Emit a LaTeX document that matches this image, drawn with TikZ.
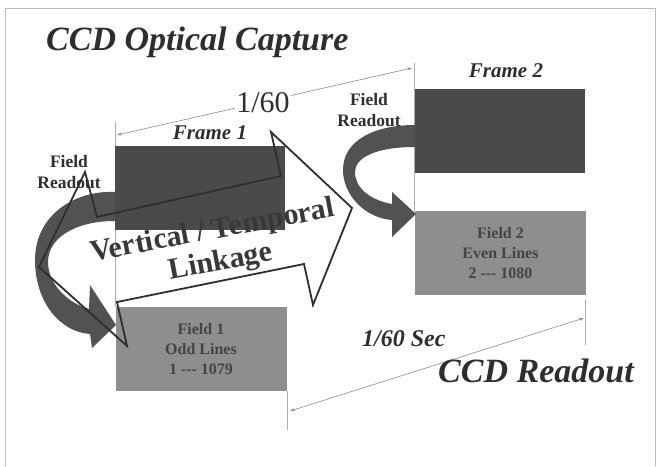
\documentclass[tikz,border=0pt]{standalone}
\usepackage{fontspec}
\setmainfont{Liberation Serif}
\usetikzlibrary{arrows.meta}
\definecolor{darkbox}{HTML}{4A4A4A}
\definecolor{fieldfill}{HTML}{8E8E8E}
\definecolor{fieldtext}{HTML}{444444}
\definecolor{swoosh}{HTML}{525252}
\definecolor{dimline}{HTML}{8A8A8A}
\definecolor{inkc}{HTML}{2E2E2E}
\begin{document}
\begin{tikzpicture}[x=1pt,y=-1pt,
  framebox/.style={fill=darkbox, draw=none, minimum width=170pt, minimum height=84pt, inner sep=0pt},
  fieldbox/.style={fill=fieldfill, draw=none, minimum width=171pt, minimum height=84pt, inner sep=0pt,
     align=center, font=\fontsize{16}{20}\selectfont\bfseries, text=fieldtext},
  bigtitle/.style={font=\fontsize{34}{38}\selectfont\bfseries\itshape, text=inkc, inner sep=0pt},
  framelabel/.style={font=\fontsize{21}{24}\selectfont\bfseries\itshape, text=inkc, inner sep=0pt},
  readlabel/.style={font=\fontsize{17.5}{21.5}\selectfont\bfseries, text=inkc, align=center, inner sep=0pt},
  linklabel/.style={rotate=10.5, anchor=base, font=\fontsize{30}{34}\selectfont\bfseries, text=black!78, inner sep=0pt},
  dimarrow/.style={draw=dimline, line width=0.6pt, {Stealth[length=5pt,width=3pt]}-{Stealth[length=5pt,width=3pt]}},
  extline/.style={draw=dimline!70, line width=0.5pt},
  swooshfill/.style={fill=swoosh},
  hollow/.style={draw=inkc, line width=1.8pt, line join=miter},
]
\useasboundingbox (0,0) rectangle (658,466);
% border
\draw[gray!55, line width=0.8pt] (5,466) -- (5,8) -- (655,8) -- (655,466);

% extension lines
\coordinate (e1a) at (115,122); \coordinate (e1b) at (115,307);
\coordinate (e2a) at (414,63);  \coordinate (e2b) at (414,211);
\coordinate (e3a) at (287,391); \coordinate (e3b) at (287,430);
\coordinate (e4a) at (585,300); \coordinate (e4b) at (585,345);
\draw[extline] (e1a) -- (e1b);
\draw[extline] (e2a) -- (e2b);
\draw[extline] (e3a) -- (e3b);
\draw[extline] (e4a) -- (e4b);

% boxes
\node[framebox] (frame1) at (200,187.5) {};
\node[fieldbox] (field1) at (201,349) {Field 1\\Odd Lines\\1 -{}-{}- 1079};
\node[framebox] (frame2) at (500,131) {};
\node[fieldbox] (field2) at (500.5,253) {Field 2\\Even Lines\\2 -{}-{}- 1080};

% dimension lines
\coordinate (d1a) at (117,135); \coordinate (d1b) at (412,68);
\draw[dimarrow] (d1a) -- (d1b);
\node[fill=white, inner sep=1pt, font=\fontsize{30}{34}\selectfont, text=inkc, anchor=base] (t160) at (263,112) {1/60};
\coordinate (d2a) at (290,411); \coordinate (d2b) at (584,318);
\draw[dimarrow] (d2a) -- (d2b);

% curved readout arrows
\fill[swooshfill] (115,192) .. controls (75,190) and (35,215) .. (35,260)
   .. controls (35,302) and (60,332) .. (90,334) -- (92,348) -- (116,325) -- (90,285) -- (89,309)
   .. controls (65,302) and (48,282) .. (48,262) .. controls (48,238) and (75,221) .. (115,221) -- cycle;
\fill[swooshfill] (415,125) .. controls (375,125) and (343,140) .. (343,170)
   .. controls (343,195) and (365,218) .. (392,220) -- (392,237) -- (416,214) -- (392,192) -- (392,204)
   .. controls (370,200) and (355,188) .. (355,172) .. controls (355,158) and (375,147) .. (415,147) -- cycle;

% labels
\node[bigtitle, anchor=base west] (title) at (46,50) {CCD Optical Capture};
\node[framelabel, anchor=base] (f2lab) at (506,77) {Frame 2};
\node[framelabel, anchor=base] (f1lab) at (210,139) {Frame 1};
\node[readlabel, anchor=base] (rl1) at (69,167) {Field};
\node[readlabel, anchor=base] (rl2) at (69,188) {Readout};
\node[readlabel, anchor=base] (rr1) at (369,105) {Field};
\node[readlabel, anchor=base] (rr2) at (369,126) {Readout};
\node[framelabel, anchor=base west, font=\fontsize{24}{28}\selectfont\bfseries\itshape] (secl) at (362,346) {1/60 Sec};
\node[bigtitle, anchor=base west] (readout) at (438,382) {CCD Readout};

% hollow linkage arrow
\draw[hollow] (97,217) -- (281,176) -- (271,132) -- (352,208) -- (313,305) -- (304,264)
   -- (117,302) -- (127,346) -- (39,267) -- (85,172) -- cycle;
\node[linklabel] (link1) at (214,239) {Vertical / Temporal};
\node[linklabel] (link2) at (222,270) {Linkage};
\end{tikzpicture}
\end{document}
